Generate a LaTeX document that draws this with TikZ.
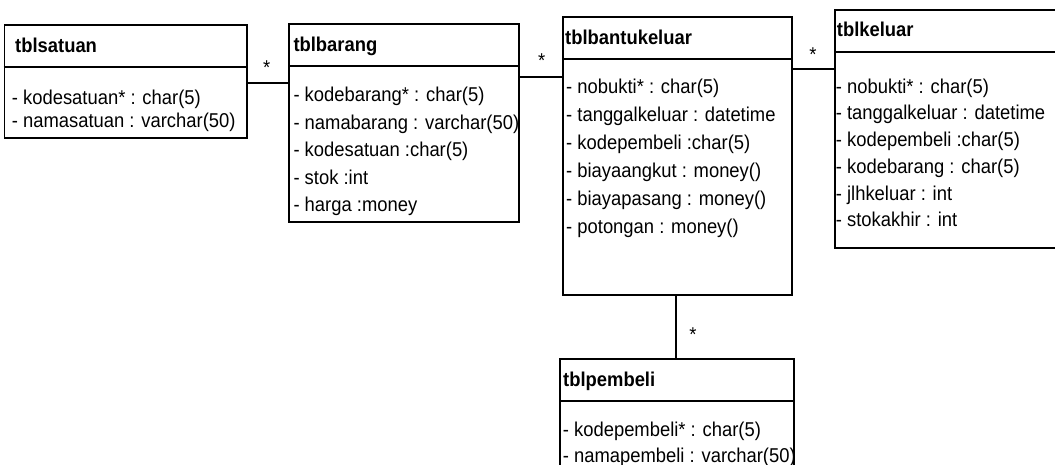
\documentclass[tikz,border=0pt]{standalone}
\usepackage{fontspec}
\setmainfont{Liberation Sans}[FakeStretch=0.92]
\begin{document}
\fontsize{20}{24}\selectfont
\begin{tikzpicture}[x=1pt,y=-1pt,
  tbl/.style={draw, line width=1.6pt, inner sep=0pt, anchor=north west},
  rule/.style={line width=1.6pt},
  link/.style={line width=1.3pt},
  head/.style={anchor=base west, inner sep=0pt, font=\bfseries},
  attr/.style={anchor=base west, inner sep=0pt},
  mult/.style={anchor=base, inner sep=0pt}]
\useasboundingbox[fill=white] (0,0) rectangle (1055,465);

% class boxes
\node[tbl, minimum width=242.5pt, minimum height=113pt] (satuan)  at (3.5,24) {};
\node[tbl, minimum width=230pt,   minimum height=198pt] (barang)  at (288,23) {};
\node[tbl, minimum width=229pt,   minimum height=278pt] (bantu)   at (562,16) {};
\node[tbl, minimum width=228pt,   minimum height=237.5pt] (keluar) at (834,9.5) {};
\node[tbl, minimum width=234pt,   minimum height=114pt] (pembeli) at (559,358) {};

% header dividers
\foreach \b/\d in {satuan/43, barang/43, bantu/43, keluar/42.5, pembeli/43}
  \draw[rule] ([yshift=-\d pt]\b.north west) -- ([yshift=-\d pt]\b.north east);

% headers
\node[head] (satuan-h)  at (15,52.3)    {tblsatuan};
\node[head] (barang-h)  at (293.3,51.7) {tblbarang};
\node[head] (bantu-h)   at (565,44.3)   {tblbantukeluar};
\node[head] (keluar-h)  at (836.7,36.5) {tblkeluar};
\node[head] (pembeli-h) at (563,386)    {tblpembeli};

% attributes
\foreach \t [count=\i from 0] in {{- kodesatuan* : char(5)}, {- namasatuan : varchar(50)}}
  \node[attr] (satuan-\i) at (11.7,105+23*\i) {\t};
\foreach \t [count=\i from 0] in {{- kodebarang* : char(5)}, {- namabarang : varchar(50)},
    {- kodesatuan :char(5)}, {- stok :int}, {- harga :money}}
  \node[attr] (barang-\i) at (293.3,101.7+27.5*\i) {\t};
\foreach \t [count=\i from 0] in {{- nobukti* : char(5)}, {- tanggalkeluar : datetime},
    {- kodepembeli :char(5)}, {- biayaangkut : money()}, {- biayapasang : money()},
    {- potongan : money()}}
  \node[attr] (bantu-\i) at (566,93.3+28*\i) {\t};
\foreach \t [count=\i from 0] in {{- nobukti* : char(5)}, {- tanggalkeluar : datetime},
    {- kodepembeli :char(5)}, {- kodebarang : char(5)}, {- jlhkeluar : int},
    {- stokakhir : int}}
  \node[attr] (keluar-\i) at (835.7,93.3+26.7*\i) {\t};
\foreach \t [count=\i from 0] in {{- kodepembeli* : char(5)}, {- namapembeli : varchar(50)}}
  \node[attr] (pembeli-\i) at (562.7,436+26.7*\i) {\t};

% associations
\coordinate (j1) at (0,83);
\coordinate (j2) at (0,77);
\coordinate (j3) at (0,69);
\coordinate (j4) at (676,0);
\draw[link] (satuan.east |- j1) -- (barang.west |- j1);
\draw[link] (barang.east |- j2) -- (bantu.west |- j2);
\draw[link] (bantu.east |- j3) -- (keluar.west |- j3);
\draw[link] (j4 |- bantu.south) -- (j4 |- pembeli.north);

% multiplicities
\node[mult] (m1) at (266.7,74.3) {*};
\node[mult] (m2) at (541.7,67.7) {*};
\node[mult] (m3) at (813,61.7)   {*};
\node[mult] (m4) at (693,341)    {*};
\end{tikzpicture}
\end{document}
